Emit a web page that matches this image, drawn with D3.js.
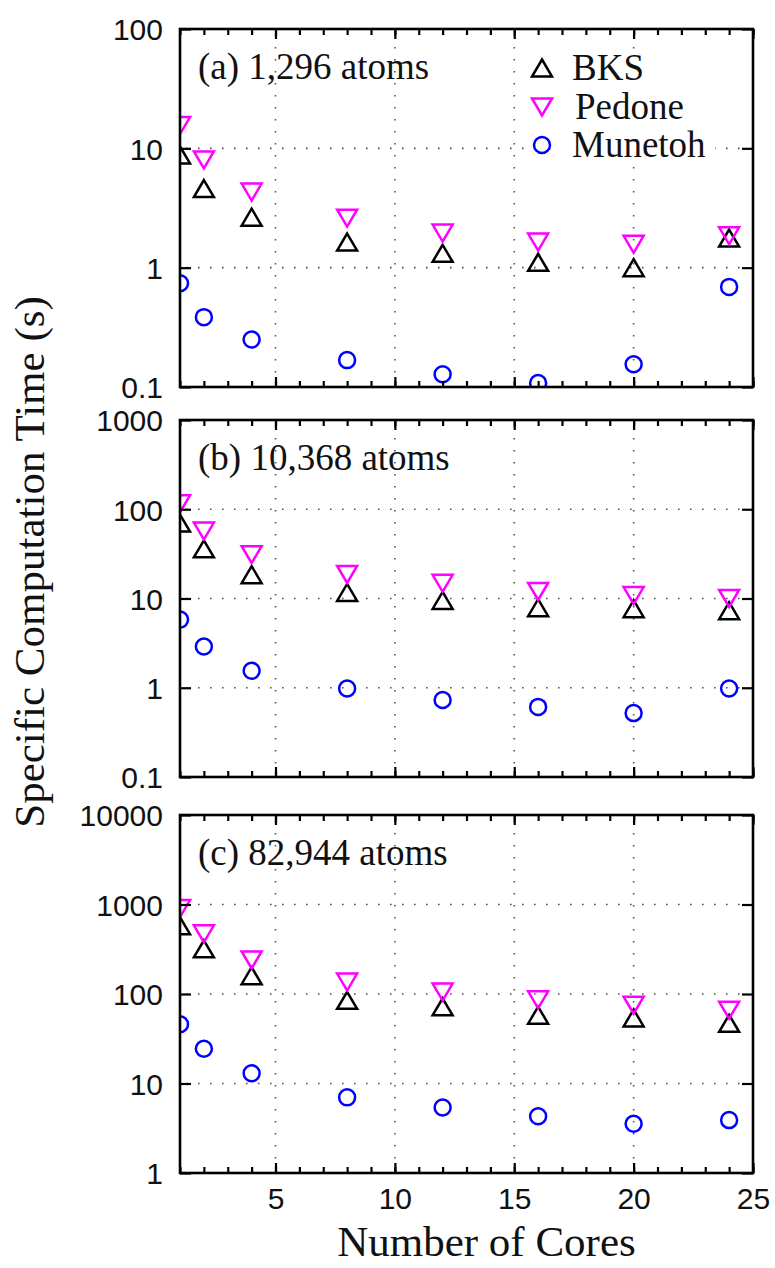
<!DOCTYPE html>
<html><head><meta charset="utf-8">
<script src="https://cdn.jsdelivr.net/npm/d3@7"></script>
<style>
html,body{margin:0;padding:0;background:#fff;}
svg{display:block;}
</style></head>
<body>
<svg id="chart" width="775" height="1268"></svg>
<script>
// ---------- data ----------
const cores = [1, 2, 4, 8, 12, 16, 20, 24];
const seriesNames = ["BKS", "Pedone", "Munetoh"];
const panelTitles = ["(a) 1,296 atoms", "(b) 10,368 atoms", "(c) 82,944 atoms"];

const bksA     = [8.8, 4.6, 2.65, 1.64, 1.32, 1.11, 1.0, 1.77];
const pedoneA  = [15.5, 8.0, 4.3, 2.6, 1.95, 1.64, 1.57, 1.85];
const munetohA = [0.74, 0.385, 0.25, 0.168, 0.128, 0.108, 0.155, 0.69];

const bksB     = [70, 36, 18.5, 11.7, 9.5, 7.9, 7.7, 7.3];
const pedoneB  = [115, 57, 31, 18.6, 14.8, 12, 10.8, 10];
const munetohB = [5.8, 2.9, 1.55, 0.98, 0.73, 0.61, 0.52, 0.98];

const bksC     = [580, 320, 160, 85, 72, 58, 54, 47];
const pedoneC  = [900, 470, 240, 136, 105, 86, 75, 66];
const munetohC = [46, 24.5, 13, 7.0, 5.4, 4.3, 3.55, 3.9];

const yTicksA = [0.1, 1, 10, 100];
const yTicksB = [0.1, 1, 10, 100, 1000];
const yTicksC = [1, 10, 100, 1000, 10000];
const xTicks = [5, 10, 15, 20, 25];
const xDomain = [1, 25];

const panels = [
  {title: panelTitles[0], series: [bksA, pedoneA, munetohA], yTicks: yTicksA, legend: true},
  {title: panelTitles[1], series: [bksB, pedoneB, munetohB], yTicks: yTicksB, legend: false},
  {title: panelTitles[2], series: [bksC, pedoneC, munetohC], yTicks: yTicksC, legend: false}
];

// ---------- layout ----------
const left = 180, right = 753;
const tops = [29, 420, 815], bottoms = [387, 777, 1173];
const colors = ["#000000", "#ff00ff", "#0000ff"];
const serif = "'Liberation Serif','Times New Roman',serif";
const sans = "'Liberation Sans',Arial,sans-serif";

const svg = d3.select("#chart");
const x = d3.scaleLinear().domain(xDomain).range([left, right]);

function markerPath(kind) {
  if (kind === 0) return "M0,-8.5L10,8.5L-10,8.5Z";
  if (kind === 1) return "M-10,-8.5L10,-8.5L0,8.5Z";
  return null;
}
function drawMarker(g, kind, cx, cy, color) {
  if (kind === 2) {
    g.append("circle").attr("cx", cx).attr("cy", cy).attr("r", 8)
      .attr("fill", "none").attr("stroke", color).attr("stroke-width", 2.5);
  } else {
    g.append("path").attr("d", markerPath(kind))
      .attr("transform", `translate(${cx},${cy})`)
      .attr("fill", "none").attr("stroke", color).attr("stroke-width", 2.5)
      .attr("stroke-linejoin", "miter");
  }
}

panels.forEach((p, i) => {
  const top = tops[i], bottom = bottoms[i];
  const yd = d3.extent(p.yTicks);
  const y = d3.scaleLog().domain(yd).range([bottom, top]);
  const g = svg.append("g");

  // clip
  const cid = "clip" + i;
  svg.append("clipPath").attr("id", cid).append("rect")
    .attr("x", left).attr("y", top).attr("width", right - left).attr("height", bottom - top);

  // grid
  const grid = g.append("g").attr("stroke", "#555").attr("stroke-width", 1.6)
    .attr("stroke-dasharray", "1.6,10.4").attr("fill", "none");
  p.yTicks.filter(v => v > yd[0] && v < yd[1]).forEach(v => {
    grid.append("line").attr("x1", left + 6).attr("x2", right - 6)
      .attr("y1", y(v)).attr("y2", y(v));
  });
  xTicks.filter(v => v < xDomain[1]).forEach(v => {
    grid.append("line").attr("x1", x(v)).attr("x2", x(v))
      .attr("y1", top + 6).attr("y2", bottom - 6);
  });

  // data markers
  const mg = g.append("g").attr("clip-path", `url(#${cid})`);
  p.series.forEach((vals, s) => {
    vals.forEach((v, k) => drawMarker(mg, s, x(cores[k]), y(v), colors[s]));
  });

  // axes via d3
  const minor = d3.range(xDomain[0], xDomain[1] + 1);
  const axB = d3.axisBottom(x).tickValues(minor).tickSizeInner(-6).tickSizeOuter(0).tickFormat("");
  const axT = d3.axisTop(x).tickValues(minor).tickSizeInner(-6).tickSizeOuter(0).tickFormat("");
  const axBMaj = d3.axisBottom(x).tickValues(xTicks).tickSizeInner(-10).tickSizeOuter(0)
    .tickFormat(i === 2 ? d3.format("d") : "");
  const axTMaj = d3.axisTop(x).tickValues(xTicks).tickSizeInner(-10).tickSizeOuter(0).tickFormat("");
  const axL = d3.axisLeft(y).tickValues(p.yTicks).tickSizeInner(-11).tickSizeOuter(0)
    .tickFormat(d => d3.format("~g")(d)).tickPadding(17);
  const axR = d3.axisRight(y).tickValues(p.yTicks).tickSizeInner(-11).tickSizeOuter(0).tickFormat("");

  const styleAxis = (sel) => {
    sel.select(".domain").remove();
    sel.selectAll(".tick line").attr("stroke", "#000").attr("stroke-width", 2.2);
    sel.selectAll(".tick text").attr("fill", "#111").style("font-family", sans).style("font-size", "30px");
  };
  g.append("g").attr("transform", `translate(0,${bottom})`).call(axB).call(styleAxis);
  g.append("g").attr("transform", `translate(0,${top})`).call(axT).call(styleAxis);
  g.append("g").attr("transform", `translate(0,${bottom})`).call(axBMaj.tickPadding(15)).call(styleAxis);
  g.append("g").attr("transform", `translate(0,${top})`).call(axTMaj).call(styleAxis);
  g.append("g").attr("transform", `translate(${left},0)`).call(axL).call(styleAxis)
    .selectAll(".tick text").attr("dy", "0.36em");
  g.append("g").attr("transform", `translate(${right},0)`).call(axR).call(styleAxis);

  // frame
  g.append("rect").attr("x", left).attr("y", top).attr("width", right - left).attr("height", bottom - top)
    .attr("fill", "none").attr("stroke", "#000").attr("stroke-width", 2.6);

  // title
  g.append("text").attr("x", left + 18).attr("y", top + 50)
    .style("font-family", serif).style("font-size", "37px").attr("fill", "#111").text(p.title);

  // legend
  if (p.legend) {
    const lg = g.append("g");
    const rowY = [top + 39, top + 78, top + 116];
    seriesNames.forEach((nm, s) => {
      lg.append("rect").attr("x", 525).attr("y", rowY[s] - 18).attr("width", 190).attr("height", 36).attr("fill", "#fff");
    });
    seriesNames.forEach((nm, s) => {
      drawMarker(lg, s, 542, rowY[s], colors[s]);
      lg.append("text").attr("x", s === 1 ? 575 : 572).attr("y", rowY[s] + 12)
        .style("font-family", serif).style("font-size", "37px").attr("fill", "#111").text(nm);
    });
  }
});

// axis titles
svg.append("text").attr("x", (left + right) / 2 + 20).attr("y", 1256).attr("text-anchor", "middle")
  .style("font-family", serif).style("font-size", "43px").attr("fill", "#111").text("Number of Cores");
svg.append("text").attr("transform", "translate(44,562) rotate(-90)").attr("text-anchor", "middle")
  .style("font-family", serif).style("font-size", "43px").attr("fill", "#111").text("Specific Computation Time (s)");
</script>
</body></html>
